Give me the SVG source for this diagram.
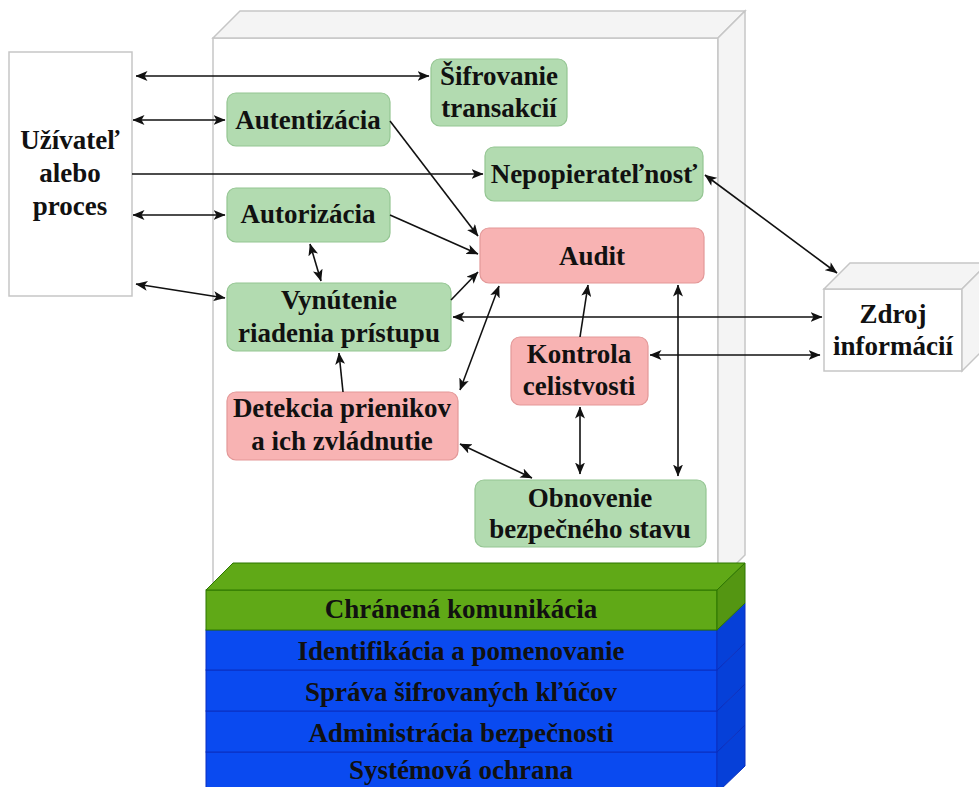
<svg xmlns="http://www.w3.org/2000/svg" width="979" height="787" viewBox="0 0 979 787">
<style>
text{font-family:"Liberation Serif","Times New Roman",serif;font-weight:bold;font-size:27px;fill:#111;text-anchor:middle}
.g{fill:#b2dbb0;stroke:#94c592;stroke-width:1.2}
.r{fill:#f8b3b3;stroke:#e39898;stroke-width:1.2}
.w{fill:#fff;stroke:#c6c6c6;stroke-width:1.5}
.s{fill:#f4f4f4;stroke:#c6c6c6;stroke-width:1.5}
.c{stroke:#111;stroke-width:1.6;fill:none}
.bl{fill:#0a4af0;stroke:#0a2fbf;stroke-width:1}
.bls{fill:#0640d8;stroke:#0a2fbf;stroke-width:1}
.gr{fill:#60a917;stroke:#2d7600;stroke-width:1}
.grs{fill:#549612;stroke:#2d7600;stroke-width:1}
</style>
<defs>
<marker id="ah" viewBox="0 0 12 10" refX="11.5" refY="5" markerWidth="12" markerHeight="10" orient="auto-start-reverse" markerUnits="userSpaceOnUse"><path d="M0,0 L12,5 L0,10 L3,5 Z" fill="#111"/></marker>
</defs>
<rect width="979" height="787" fill="#fff"/>

<g id="system">
<rect class="w" x="213" y="38" width="505" height="544"/>
<polygon class="s" points="213,38 240,11 745,11 718,38"/>
<polygon class="s" points="718,38 745,11 745,555 718,582"/>
</g>

<g id="user">
<rect class="w" x="9" y="52" width="123" height="244"/>
<text x="70" y="149">Užívateľ</text>
<text x="70" y="182">alebo</text>
<text x="70" y="215">proces</text>
</g>

<g id="zdroj">
<rect class="w" x="824" y="289" width="138" height="82"/>
<polygon class="s" points="824,289 850,263 988,263 962,289"/>
<polygon class="s" points="962,289 988,263 988,345 962,371"/>
<text x="893" y="323">Zdroj</text>
<text x="893" y="355">informácií</text>
</g>

<g id="sifrovanie">
<rect class="g" x="431" y="59" width="136" height="67" rx="9"/>
<text x="499" y="85">Šifrovanie</text>
<text x="499" y="117">transakcií</text>
</g>
<g id="autentizacia">
<rect class="g" x="227" y="93" width="163" height="53" rx="9"/>
<text x="308" y="129">Autentizácia</text>
</g>
<g id="nepopieratelnost">
<rect class="g" x="485" y="147" width="218" height="54" rx="9"/>
<text x="594" y="183">Nepopierateľnosť</text>
</g>
<g id="autorizacia">
<rect class="g" x="227" y="188" width="163" height="54" rx="9"/>
<text x="308" y="223">Autorizácia</text>
</g>
<g id="audit">
<rect class="r" x="480" y="228" width="224" height="55" rx="9"/>
<text x="592" y="265">Audit</text>
</g>
<g id="vynutenie">
<rect class="g" x="227" y="283" width="224" height="68" rx="9"/>
<text x="339" y="309">Vynútenie</text>
<text x="339" y="342">riadenia prístupu</text>
</g>
<g id="kontrola">
<rect class="r" x="511" y="337" width="137" height="68" rx="9"/>
<text x="579" y="363">Kontrola</text>
<text x="579" y="395">celistvosti</text>
</g>
<g id="detekcia">
<rect class="r" x="227" y="392" width="231" height="68" rx="9"/>
<text x="342" y="417">Detekcia prienikov</text>
<text x="342" y="450">a ich zvládnutie</text>
</g>
<g id="obnovenie">
<rect class="g" x="475" y="480" width="231" height="67" rx="9"/>
<text x="590" y="507">Obnovenie</text>
<text x="590" y="538">bezpečného stavu</text>
</g>

<g id="connectors">
<line class="c" x1="136" y1="76" x2="429" y2="76" marker-start="url(#ah)" marker-end="url(#ah)"/>
<line class="c" x1="133" y1="120" x2="225" y2="120" marker-start="url(#ah)" marker-end="url(#ah)"/>
<line class="c" x1="132" y1="174" x2="483" y2="174" marker-end="url(#ah)"/>
<line class="c" x1="133" y1="215" x2="225" y2="215" marker-start="url(#ah)" marker-end="url(#ah)"/>
<line class="c" x1="136" y1="284" x2="225" y2="298" marker-start="url(#ah)" marker-end="url(#ah)"/>
<line class="c" x1="390" y1="121" x2="478" y2="236" marker-end="url(#ah)"/>
<line class="c" x1="390" y1="215" x2="478" y2="254" marker-end="url(#ah)"/>
<line class="c" x1="451" y1="300" x2="478" y2="272" marker-end="url(#ah)"/>
<line class="c" x1="310" y1="244" x2="321" y2="281" marker-start="url(#ah)" marker-end="url(#ah)"/>
<line class="c" x1="705" y1="175" x2="837" y2="273" marker-start="url(#ah)" marker-end="url(#ah)"/>
<line class="c" x1="453" y1="317" x2="822" y2="317" marker-start="url(#ah)" marker-end="url(#ah)"/>
<line class="c" x1="650" y1="355" x2="820" y2="355" marker-start="url(#ah)" marker-end="url(#ah)"/>
<line class="c" x1="499" y1="286" x2="460" y2="390" marker-start="url(#ah)" marker-end="url(#ah)"/>
<line class="c" x1="580" y1="337" x2="588" y2="285" marker-end="url(#ah)"/>
<line class="c" x1="678" y1="285" x2="678" y2="476" marker-start="url(#ah)" marker-end="url(#ah)"/>
<line class="c" x1="580" y1="407" x2="580" y2="474" marker-start="url(#ah)" marker-end="url(#ah)"/>
<line class="c" x1="343" y1="392" x2="339" y2="353" marker-end="url(#ah)"/>
<line class="c" x1="460" y1="444" x2="532" y2="478" marker-start="url(#ah)" marker-end="url(#ah)"/>
</g>

<g id="stack">
<g id="l5">
<rect class="bl" x="206" y="752" width="511" height="41"/>
<polygon class="bls" points="717,752 745,725 745,766 717,793"/>
<text x="461" y="779">Systémová ochrana</text>
</g>
<g id="l4">
<rect class="bl" x="206" y="711" width="511" height="41"/>
<polygon class="bls" points="717,711 745,684 745,725 717,752"/>
<text x="461" y="742">Administrácia bezpečnosti</text>
</g>
<g id="l3">
<rect class="bl" x="206" y="670" width="511" height="41"/>
<polygon class="bls" points="717,670 745,643 745,684 717,711"/>
<text x="461" y="701">Správa šifrovaných kľúčov</text>
</g>
<g id="l2">
<rect class="bl" x="206" y="630" width="511" height="40"/>
<polygon class="bls" points="717,630 745,603 745,643 717,670"/>
<text x="461" y="660">Identifikácia a pomenovanie</text>
</g>
<g id="l1">
<rect class="gr" x="206" y="590" width="511" height="40"/>
<polygon class="gr" points="206,590 233,563 745,563 717,590"/>
<polygon class="grs" points="717,590 745,563 745,603 717,630"/>
<text x="461" y="618">Chránená komunikácia</text>
</g>
</g>
</svg>
